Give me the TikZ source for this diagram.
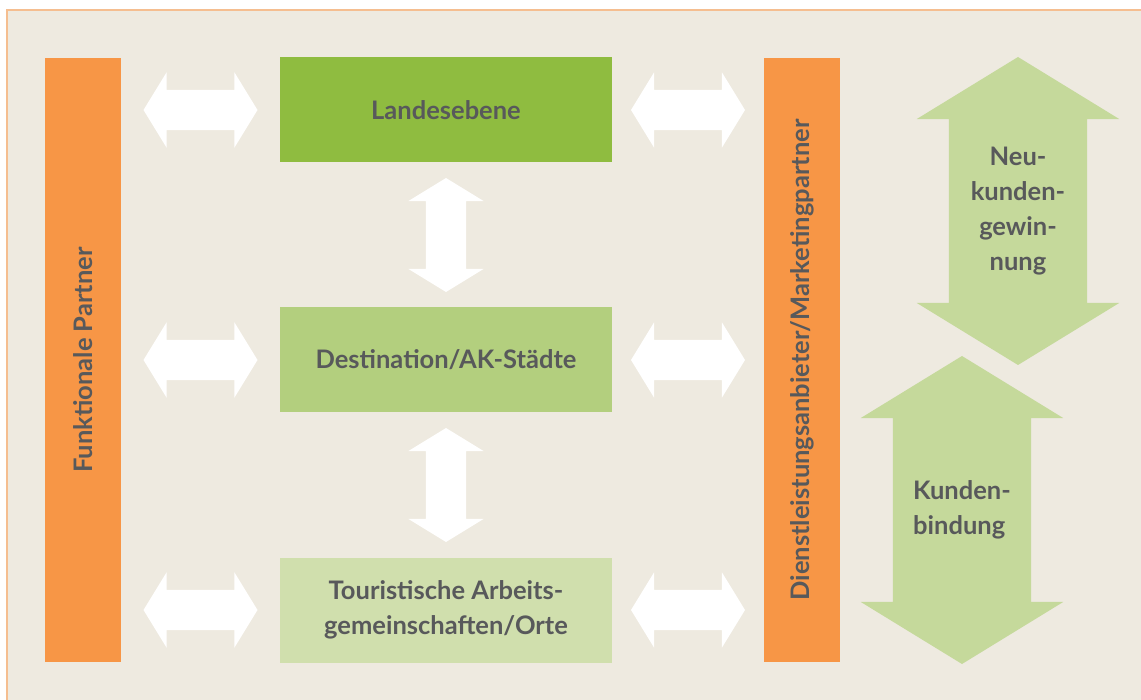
\documentclass[tikz,border=0pt]{standalone}
\usepackage{fontspec}
\setmainfont{Lato}
\usetikzlibrary{shapes.arrows,calc,positioning}

\definecolor{bgbeige}{HTML}{EEEAE0}
\definecolor{frameorange}{HTML}{F5BE90}
\definecolor{barorange}{HTML}{F79646}
\definecolor{levelA}{HTML}{8FBC40}
\definecolor{levelB}{HTML}{B3CF7E}
\definecolor{levelC}{HTML}{D0DFAD}
\definecolor{arrowgreen}{HTML}{C5D99B}
\definecolor{textgrey}{HTML}{58595B}

\begin{document}
\begin{tikzpicture}[
		x=1pt,y=-1pt,
		txt/.style={
			font=\fontsize{25.5}{35}\selectfont\bfseries,
			text=textgrey,
			align=center
		},
		bar/.style={fill=barorange,inner sep=0,
			minimum width=76pt,minimum height=604pt
		},
		level/.style={txt,inner sep=0,
			minimum width=332pt,minimum height=105pt
		},
		harrow/.style={
			double arrow,
			fill=white,
			inner sep=20pt,
			minimum height=114pt,
			double arrow head extend=17.5pt,
			double arrow tip angle=117
		},
		varrow/.style={harrow,shape border rotate=90},
		bigarrow/.style={
			double arrow,
			fill=arrowgreen,
			inner sep=69pt,
			minimum height=308pt,
			double arrow head extend=32pt,
			double arrow tip angle=117,
			shape border rotate=90
		}
		]
		\useasboundingbox (0,0) rectangle (1141,700);
		% Background
		\fill[bgbeige] (7,10) rectangle (1141,700);
		\draw[frameorange,line width=2pt] (7,700) -- (7,10) -- (1141,10);
		% Partner bars
		\node[bar] (funk) at (83,360) {};
		\node[txt,rotate=90] at (funk) {Funktionale Partner};
		\node[bar] (dienst) at (802,360) {};
		\node[txt,rotate=90] at (dienst) {Dienstleistungsanbieter/Marketingpartner};
		% Levels
		\node[level,fill=levelA] (lvl1) at (446,110) {Landesebene};
		\node[level,fill=levelB] (lvl2) at (446,360) {Destination/AK-Städte};
		\node[level,fill=levelC] (lvl3) at (446,610) {Touristische Arbeits-\\gemeinschaften/Orte};
		% Bars <-> levels
		\foreach \l in {1,2,3}
		{
			\node[harrow] (left\l) at ($(funk.east |- lvl\l)!0.5!(lvl\l.west)$) {};
			\node[harrow] (right\l) at ($(lvl\l.east)!0.5!(dienst.west |- lvl\l)$) {};
		}
		% Level <-> level
		\foreach \a/\b in {1/2,2/3}
			\node[varrow] (down\a) at ($(lvl\a.south)!0.5!(lvl\b.north)$) {};
		% Customer arrows
		\node[bigarrow] (neu) at (1018,211) {};
		\node[txt] at (neu) {Neu-\\kunden-\\gewin-\\nung};
		\node[bigarrow] (bind) at (962,510) {};
		\node[txt,align=left] at (bind) {Kunden-\\bindung};
\end{tikzpicture}
\end{document}
